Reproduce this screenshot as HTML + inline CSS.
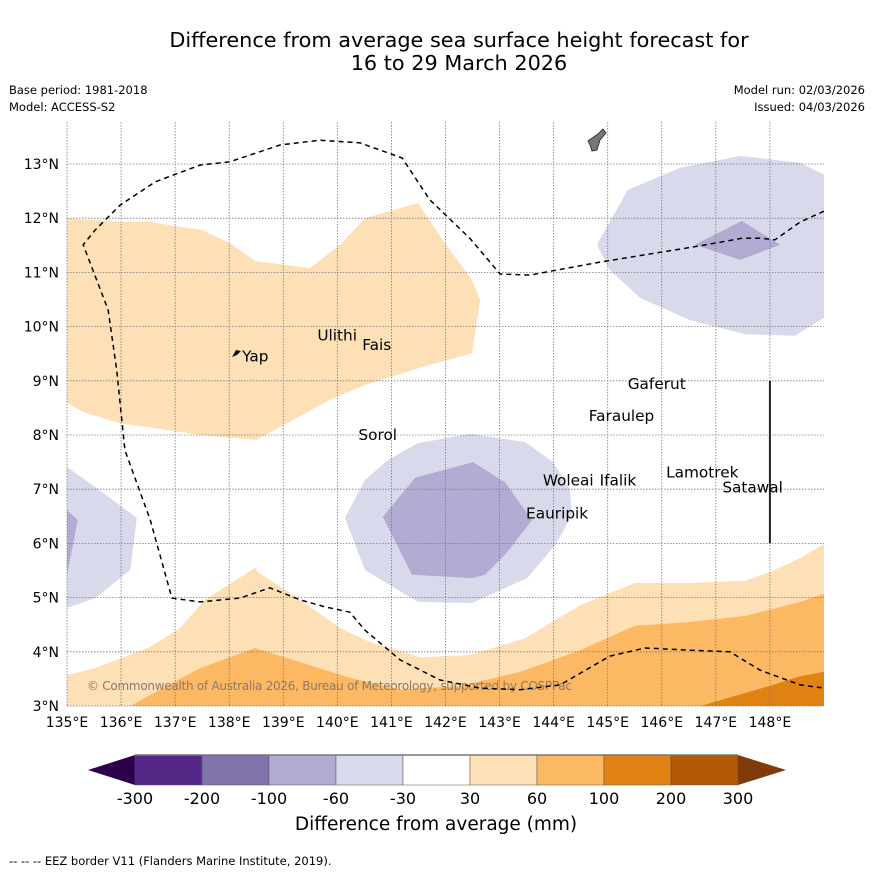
<!DOCTYPE html>
<html><head><meta charset="utf-8">
<style>
body{margin:0;background:#fff;font-family:"DejaVu Sans","Liberation Sans",sans-serif;}
svg text{font-family:"DejaVu Sans","Liberation Sans",sans-serif;}
</style></head>
<body>
<svg id="chart" width="873" height="873" viewBox="0 0 873 873" xmlns="http://www.w3.org/2000/svg">
<rect width="873" height="873" fill="#fff"/>
<text x="459" y="47" font-size="20.8" text-anchor="middle">Difference from average sea surface height forecast for</text>
<text x="459" y="70" font-size="20.8" text-anchor="middle">16 to 29 March 2026</text>
<text x="9" y="94" font-size="11.5">Base period: 1981-2018</text>
<text x="9" y="111" font-size="11.5">Model: ACCESS-S2</text>
<text x="865" y="94" font-size="11.5" text-anchor="end">Model run: 02/03/2026</text>
<text x="865" y="111" font-size="11.5" text-anchor="end">Issued: 04/03/2026</text>
<defs><clipPath id="pc"><rect x="67" y="122" width="757" height="584"/></clipPath></defs>
<g id="fills" clip-path="url(#pc)"></g>
<g id="grid"></g>
<g id="over" clip-path="url(#pc)"></g>
<g id="axes"></g>
<g id="cbar"></g>
<text x="436" y="830" font-size="18.5" text-anchor="middle">Difference from average (mm)</text>
<text x="9" y="865" font-size="11.5">--  --  -- EEZ border V11 (Flanders Marine Institute, 2019).</text>
</svg>
<script>
const lonTicks=[135,136,137,138,139,140,141,142,143,144,145,146,147,148];
const latTicks=[3,4,5,6,7,8,9,10,11,12,13];
const cbLevels=["-300","-200","-100","-60","-30","30","60","100","200","300"];
const cbColors=["#542788","#8073ac","#b2abd2","#d8daeb","#ffffff","#fee0b6","#fdb863","#e08214","#b35806"];
const orangeNorthLon=[135,135.98,136.54,137.50,138.01,138.48,139.49,140.05,140.51,141.49,141.99,142.49,142.64,142.49,141.53,140.51,139.86,138.51,137.46,135.98,135.33,135];
const orangeNorthLat=[12.00,11.93,11.93,11.78,11.54,11.21,11.08,11.51,12.00,12.28,11.54,10.86,10.49,9.51,9.24,8.92,8.65,7.91,8.00,8.22,8.41,8.59];
const purpleNELon=[144.80,145.37,146.34,147.45,148.56,149,149,148.46,147.54,146.52,145.60,145.04];
const purpleNELat=[11.51,12.52,12.93,13.15,13.02,12.80,10.16,9.83,9.86,10.12,10.53,11.04];
const purpleNEdLon=[146.61,147.48,148.19,147.45];
const purpleNEdLat=[11.51,11.95,11.51,11.23];
const purpleCLon=[140.14,140.51,140.94,141.49,142.45,143.47,143.99,144.30,144.34,144.03,143.51,142.49,141.49,140.51];
const purpleCLat=[6.47,7.17,7.54,7.85,8.02,7.87,7.50,6.99,6.52,5.97,5.36,4.90,4.92,5.51];
const purpleCdLon=[140.84,141.44,142.51,143.10,143.60,143.10,142.73,142.49,141.38];
const purpleCdLat=[6.49,7.21,7.50,7.13,6.43,5.79,5.42,5.36,5.42];
const purpleWLon=[135,135.52,136.29,136.17,135.52,135];
const purpleWLat=[7.41,7.04,6.47,5.51,4.99,4.81];
const purpleWdLon=[135,135.20,135];
const purpleWdLat=[6.62,6.43,5.42];
const orangeSLon=[135,135.52,136.54,137.09,137.55,138.48,138.53,139.31,140.05,140.60,141.53,142.45,143.47,144.49,145.50,146.52,147.54,148.00,148.56,149,149,135];
const orangeSLat=[3.57,3.70,4.09,4.44,4.96,5.55,5.47,4.96,4.44,4.18,3.90,3.94,4.25,4.86,5.27,5.27,5.31,5.47,5.73,5.99,3,3];
const orangeSmLon=[136.17,136.72,137.46,138.48,139.31,140.23,141.16,142.27,143.38,144.49,145.50,146.52,147.54,148.56,149,149];
const orangeSmLat=[3,3.30,3.70,4.07,3.81,3.52,3.30,3.37,3.63,4.03,4.48,4.55,4.66,4.92,5.07,3];
const orangeSdLon=[146.71,148.0,148.56,149,149];
const orangeSdLat=[3,3.37,3.55,3.63,3];
const eezLon=[149,148.56,148.09,147.85,147.48,146.71,144.86,143.56,143.01,142.45,141.71,141.20,140.42,139.68,138.94,138.01,137.46,136.63,135.98,135.52,135.30,135.76,135.92,136.07,136.54,136.94,137.46,138.20,138.75,139.31,139.77,140.23,140.51,141.16,141.90,142.64,143.38,144.12,145.04,145.69,146.52,147.26,147.82,148.56,149];
const eezLat=[12.13,11.93,11.60,11.63,11.63,11.49,11.19,10.95,10.97,11.63,12.34,13.11,13.39,13.44,13.35,13.04,12.98,12.67,12.24,11.78,11.51,10.31,9.20,7.72,6.43,4.99,4.92,4.99,5.18,4.96,4.83,4.73,4.40,3.85,3.48,3.33,3.30,3.39,3.92,4.07,4.03,4.00,3.66,3.39,3.33];
const placeNames=["Yap","Ulithi","Fais","Sorol","Gaferut","Faraulep","Woleai","Ifalik","Lamotrek","Satawal","Eauripik"];
const placeLon=[138.24,139.63,140.46,140.39,145.37,144.65,143.80,144.85,146.08,147.12,143.49];
const placeLat=[9.45,9.84,9.66,8.00,8.94,8.35,7.16,7.16,7.31,7.03,6.55];

const NS="http://www.w3.org/2000/svg";
const X=lon=>67+(lon-135)*54.07;
const Y=lat=>706-(lat-3)*54.2;
function mk(tag,attrs,parent){const e=document.createElementNS(NS,tag);for(const k in attrs)e.setAttribute(k,attrs[k]);parent.appendChild(e);return e;}
const fills=document.getElementById('fills'),grid=document.getElementById('grid'),over=document.getElementById('over'),axes=document.getElementById('axes'),cbar=document.getElementById('cbar');
function poly(lons,lats,color,name){const p=mk('polygon',{points:lons.map((l,i)=>X(l).toFixed(1)+','+Y(lats[i]).toFixed(1)).join(' '),fill:color},fills);

}
poly(orangeNorthLon,orangeNorthLat,cbColors[5],'anomaly-30-60-north');
poly(purpleNELon,purpleNELat,cbColors[3],'anomaly-neg30-60-northeast');
poly(purpleNEdLon,purpleNEdLat,cbColors[2],'anomaly-neg60-100-northeast');
poly(purpleCLon,purpleCLat,cbColors[3],'anomaly-neg30-60-central');
poly(purpleCdLon,purpleCdLat,cbColors[2],'anomaly-neg60-100-central');
poly(purpleWLon,purpleWLat,cbColors[3],'anomaly-neg30-60-west');
poly(purpleWdLon,purpleWdLat,cbColors[2],'anomaly-neg60-100-west');
poly(orangeSLon,orangeSLat,cbColors[5],'anomaly-30-60-south');
poly(orangeSmLon,orangeSmLat,cbColors[6],'anomaly-60-100-south');
poly(orangeSdLon,orangeSdLat,cbColors[7],'anomaly-100-200-south');
lonTicks.forEach(l=>{const g=mk('line',{x1:X(l),x2:X(l),y1:122,y2:706,stroke:'#777','stroke-width':0.8,'stroke-dasharray':'1.5,1.5'},grid);


const t=mk('text',{x:X(l),y:727,'font-size':14,'text-anchor':'middle'},axes);t.textContent=l+'°E';

});
latTicks.forEach(l=>{const g=mk('line',{x1:67,x2:824,y1:Y(l),y2:Y(l),stroke:'#777','stroke-width':0.8,'stroke-dasharray':'1.5,1.5'},grid);


const t=mk('text',{x:59,y:Y(l)+5,'font-size':14,'text-anchor':'end'},axes);t.textContent=l+'°N';

});
const cp=mk('text',{x:87,y:690,'font-size':12,fill:'#8a7a6a','textLength':485},over);cp.textContent='© Commonwealth of Australia 2026, Bureau of Meteorology, supported by COSPPac';


const eez=mk('polyline',{points:eezLon.map((l,i)=>X(l).toFixed(1)+','+Y(eezLat[i]).toFixed(1)).join(' '),fill:'none',stroke:'#000','stroke-width':1.5,'stroke-dasharray':'5,4'},over);


const vl=mk('line',{x1:X(148),x2:X(148),y1:Y(9),y2:Y(6),stroke:'#222','stroke-width':2},over);


const yap=mk('polygon',{points:'232,357 236,350 241,351 237,355',fill:'#111'},over);


const guam=mk('polygon',{points:'588,141 598,134 603,129 606,133 600,140 597,150 592,151 590,145',fill:'#777',stroke:'#222','stroke-width':0.8},over);


placeNames.forEach((n,i)=>{const t=mk('text',{x:X(placeLon[i]),y:Y(placeLat[i])+5,'font-size':15.3},over);t.textContent=n;

});
const cx0=135,cw=67,cy=755,ch=30;
const lt=mk('polygon',{points:`${cx0},${cy} ${cx0},${cy+ch} 88,${cy+ch/2}`,fill:'#2d004b'},cbar);


cbColors.forEach((c,i)=>{const r=mk('rect',{x:cx0+i*cw,y:cy,width:cw,height:ch,fill:c,stroke:'#555','stroke-width':0.5},cbar);

});
const ex=cx0+cbColors.length*cw;
const rt=mk('polygon',{points:`${ex},${cy} ${ex},${cy+ch} 786,${cy+ch/2}`,fill:'#7f3b08'},cbar);


mk('line',{x1:cx0,x2:ex,y1:cy,y2:cy,stroke:'#777','stroke-width':1.5},cbar);
cbLevels.forEach((v,i)=>{const t=mk('text',{x:cx0+i*cw,y:804,'font-size':16,'text-anchor':'middle'},cbar);t.textContent=v;

});
</script>
</body></html>
